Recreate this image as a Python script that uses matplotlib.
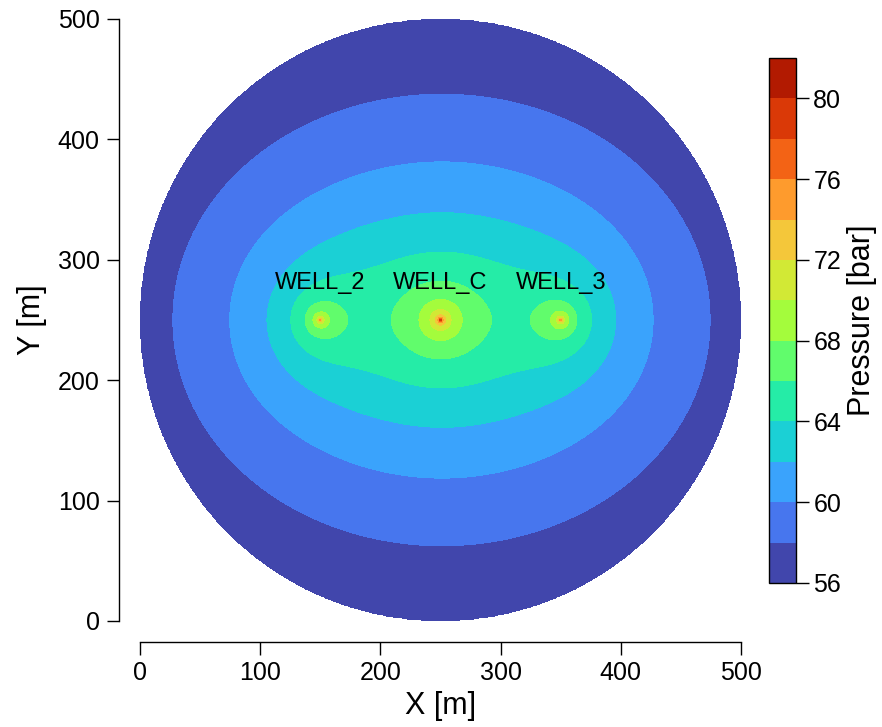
import numpy as np
import matplotlib
matplotlib.use("Agg")
import matplotlib.pyplot as plt

plt.rcParams['font.family'] = ['Liberation Sans', 'DejaVu Sans']

# ---------- well data ----------
WELL_NAMES = ["WELL_2", "WELL_C", "WELL_3"]
WELL_X = [150.0, 250.0, 350.0]       # m
WELL_Y = [250.0, 250.0, 250.0]       # m
LABEL_Y = 281.0
R_WELL = 0.5                          # m
DOMAIN_C = (250.0, 250.0)
DOMAIN_R = 250.0

# 等值线位置 (x, y, 压力)
CONTOUR_X = [250, 250, 250, 250, 250, 250, 250, 250, 250, 250,
             22, 74.3, 106.7, 126.2, 137.2, 173.8, 144.1, 157.4, 209.6, 232.9,
             292.5, 324.4, 363.7, 375, 394.5, 427.5, 480, 150, 150]
CONTOUR_Y = [306.2, 346.3, 378.7, 428.6, 192.4, 160, 119.9, 70, 232.8, 217.3,
             250, 250, 250, 250, 250, 250, 250, 250, 250, 250,
             250, 250, 250, 250, 250, 250, 250, 264.4, 232.8]
CONTOUR_P = [64, 62, 60, 58, 64, 62, 60, 58, 68, 66,
             58, 60, 62, 64, 66, 66, 68, 68, 66, 68,
             66, 66, 66, 64, 62, 60, 58, 66, 66]

LEVELS = np.arange(56, 84, 2)
CB_TICKS = np.arange(56, 81, 4)
NORM_MIN, NORM_MAX = 55, 83


def exp1(u):
    """E1(u) 级数展开"""
    u = np.asarray(u, dtype=float)
    s = np.zeros_like(u)
    term = np.ones_like(u)
    for k in range(1, 60):
        term = term * (-u) / k
        s -= term / k
    return -0.5772156649 - np.log(u) + s


def basis(px, py, L):
    cols = [np.ones_like(px)]
    for wx, wy in zip(WELL_X, WELL_Y):
        r = np.maximum(np.hypot(px - wx, py - wy), R_WELL)
        cols.append(exp1(r**2 / L**2))
    return np.stack(cols, axis=-1)


# ---------- 拟合 p0 和各井强度 ----------
cx = np.array(CONTOUR_X, float)
cy = np.array(CONTOUR_Y, float)
cp = np.array(CONTOUR_P, float)
best = None
for L in np.arange(200, 1201, 10):
    A = basis(cx, cy, L)
    coef, *_ = np.linalg.lstsq(A, cp, rcond=None)
    res = np.sum((A @ coef - cp)**2)
    if best is None or res < best[0]:
        best = (res, L, coef)
_, L_DIFF, COEF = best

# ---------- pressure field ----------
x = np.linspace(0, 500, 1001)
y = np.linspace(0, 500, 1001)
X, Y = np.meshgrid(x, y)
P = basis(X, Y, L_DIFF) @ COEF
P = np.clip(P, 56.01, 81.99)
outside = np.hypot(X - DOMAIN_C[0], Y - DOMAIN_C[1]) > DOMAIN_R
P = np.ma.masked_where(outside, P)

# ---------- plot ----------
fig = plt.figure(figsize=(8.82, 7.27), dpi=100)
ax = fig.add_axes([140/882, 106/727, 601/882, 602/727])
cs = ax.contourf(X, Y, P, levels=LEVELS, cmap='turbo',
                 vmin=NORM_MIN, vmax=NORM_MAX)

for name, wx in zip(WELL_NAMES, WELL_X):
    ax.text(wx, LABEL_Y, name, ha='center', va='center', fontsize=17)

ax.set_xlim(0, 500)
ax.set_ylim(0, 500)
ax.set_xticks([0, 100, 200, 300, 400, 500])
ax.set_yticks([0, 100, 200, 300, 400, 500])
for side in ['top', 'right']:
    ax.spines[side].set_visible(False)
for side in ['left', 'bottom']:
    ax.spines[side].set_position(('outward', 15))
    ax.spines[side].set_linewidth(1.0)
ax.tick_params(labelsize=18, length=9, width=1.0, pad=5)
ax.set_xlabel('X [m]', fontsize=22, labelpad=4)
ax.set_ylabel('Y [m]', fontsize=22, labelpad=8)

cax = fig.add_axes([769/882, 144/727, 27/882, 525/727])
cb = fig.colorbar(cs, cax=cax, ticks=CB_TICKS)
cb.set_label('Pressure [bar]', fontsize=22)
cb.ax.tick_params(labelsize=18, length=9, width=1.0)
cb.outline.set_linewidth(1.0)

fig.savefig('out.png', dpi=100)
